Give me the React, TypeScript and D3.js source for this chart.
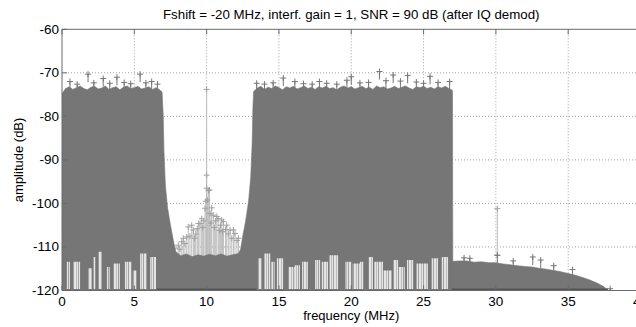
import React from "react";
import * as d3 from "d3";

// ---------- data ----------
const xTicks = [0, 5, 10, 15, 20, 25, 30, 35, 40];
const yTicks = [-120, -110, -100, -90, -80, -70, -60];

// upper envelope of the dense (dark) spectrum trace
const specFreq = [
  0, 0.25, 0.5, 0.75, 1, 1.25, 1.5, 1.75, 2, 2.25, 2.5, 2.75, 3, 3.25, 3.5, 3.75, 4, 4.25, 4.5, 4.75,
  5, 5.25, 5.5, 5.75, 6, 6.25, 6.5, 6.75,
  6.92, 7.0, 7.05, 7.15, 7.3, 7.5, 7.7, 7.85,
  8.2, 8.6, 9.0, 9.4, 9.8, 10.2, 10.6, 11.0, 11.4, 11.8, 12.2,
  12.35, 12.5, 12.7, 12.9, 13.05, 13.15, 13.2, 13.25,
  13.5, 13.75, 14, 14.25, 14.5, 14.75, 15, 15.25, 15.5, 15.75, 16, 16.25, 16.5, 16.75, 17, 17.25,
  17.5, 17.75, 18, 18.25, 18.5, 18.75, 19, 19.25, 19.5, 19.75, 20, 20.25, 20.5, 20.75, 21, 21.25,
  21.5, 21.75, 22, 22.25, 22.5, 22.75, 23, 23.25, 23.5, 23.75, 24, 24.25, 24.5, 24.75, 25, 25.25,
  25.5, 25.75, 26, 26.25, 26.5, 26.75, 26.98, 27.0,
  27.02, 27.5, 28, 28.5, 29, 29.5, 30, 30.5, 31, 31.5, 32, 32.5, 33, 33.5, 34, 34.5, 35, 35.5,
  36, 36.5, 37, 37.5, 37.65, 37.75,
];
const specAmp = [
  // band 1 (28)
  -74.8, -73.6, -73.2, -73.8, -73.4, -73.0, -73.6, -73.9, -73.3, -73.1, -73.7, -73.5, -73.0, -73.8,
  -73.4, -73.2, -73.9, -73.3, -73.0, -73.6, -73.4, -73.1, -73.7, -73.5, -73.2, -73.8, -73.4, -73.9,
  // skirt (8)
  -74.4, -80, -88, -96, -101, -105, -108.5, -111,
  // floor (11)
  -112.0, -111.6, -112.2, -111.8, -112.1, -111.7, -112.0, -111.6, -112.1, -111.8, -111.5,
  // skirt (8)
  -110.5, -107.5, -104, -99.5, -94, -86, -78, -74.3,
  // band 2 (54 + 2)
  -73.5, -73.1, -73.8, -73.3, -73.6, -73.0, -73.4, -73.9, -73.2, -73.5, -73.1, -73.7, -73.4, -73.0,
  -73.6, -73.3, -73.8, -73.2, -73.5, -73.1, -73.6, -73.4, -73.9, -73.3, -73.0, -73.5, -73.2, -73.7,
  -73.4, -73.1, -73.6, -73.3, -73.8, -73.0, -73.4, -73.2, -73.7, -73.5, -73.1, -73.6, -73.3, -73.0,
  -73.5, -73.8, -73.2, -73.4, -73.1, -73.6, -73.3, -73.7, -73.2, -73.5, -73.1, -73.6,
  -74.0, -74.2,
  // tail (24)
  -113.3, -113.2, -113.2, -113.5, -113.4, -113.6, -113.6, -113.9, -114.1, -114.3, -114.5, -114.6,
  -114.9, -115.1, -115.4, -115.7, -116.1, -116.5, -117.0, -117.6, -118.3, -119.2, -119.7, -120,
];

// isolated spikes (with + markers) on top of the dark trace
const peakFreq = [
  0.55, 1.05, 1.8, 2.2, 2.85, 3.3, 3.8, 4.3, 4.75, 5.4, 5.8, 6.2, 6.6,
  13.46, 14.0, 14.6, 15.3, 16.1, 16.7, 17.3, 17.8, 18.3, 19.0, 19.7, 20.0, 20.6, 21.2, 21.95, 22.4,
  22.9, 23.4, 23.9, 24.5, 25.0, 25.45, 26.0, 26.8,
  27.8, 28.2, 30.1, 31.2, 32.55, 33.1, 34.0, 35.3, 37.9,
];
const peakAmp = [
  -72.0, -72.6, -70.3, -72.3, -71.3, -72.4, -71.0, -72.2, -72.5, -70.3, -72.3, -72.0, -72.6,
  -72.4, -72.6, -72.3, -71.2, -72.0, -72.5, -72.6, -72.0, -72.4, -72.6, -71.7, -70.9, -72.3, -72.2,
  -69.7, -71.8, -70.5, -71.9, -70.6, -72.1, -72.4, -70.8, -72.2, -72.0,
  -112.5, -112.6, -111.9, -113.2, -112.3, -113.0, -114.3, -115.2, -119.6,
];

// light stems between the two bands (interferer) and at 30 MHz
const stemFreq = [
  7.8, 8.04, 8.15, 8.28, 8.39, 8.5, 8.62, 8.73, 8.85, 8.97, 9.08, 9.17, 9.25, 9.35, 9.43, 9.54,
  9.66, 9.73, 9.8, 9.89, 9.95, 10.0, 10.0, 10.0, 10.05, 10.12, 10.2, 10.24, 10.3, 10.35, 10.46,
  10.53, 10.6, 10.7, 10.8, 10.88, 10.95, 11.04, 11.1, 11.16, 11.3, 11.39, 11.5, 11.62, 11.74,
  11.85, 11.96, 12.1, 12.2, 30.1, 30.1,
];
const stemAmp = [
  -110.3, -109.6, -110.5, -108.8, -108.0, -109.2, -107.7, -105.4, -107.5, -105.0, -106.1, -108.0,
  -107.0, -105.8, -104.6, -104.6, -103.5, -105.5, -104.0, -101.1, -99.5, -73.8, -93.5, -96.5, -99.2,
  -97.0, -96.9, -102.3, -104.5, -101.0, -102.7, -105.5, -104.0, -103.0, -103.5, -106.2, -105.0,
  -103.8, -106.5, -104.2, -106.0, -105.0, -107.0, -106.1, -108.0, -106.1, -106.9, -108.5, -108.0,
  -101.2, -111.9,
];

// light gaps at the bottom of the two bands (start, end, top)
const gapStart = [
  0.33, 0.77, 1.8, 2.15, 2.5, 3.1, 3.55, 4.35, 4.9, 5.4, 6.1,
  13.55, 14.0, 14.45, 14.85, 15.65, 16.1, 16.6, 17.5, 17.96, 18.5, 19.6, 20.1, 20.6, 21.2, 21.6,
  22.2, 22.9, 23.25, 23.85, 24.5, 25.55, 26.25,
];
const gapEnd = [
  0.55, 1.25, 2.07, 2.3, 2.75, 3.3, 4.0, 4.8, 5.15, 5.85, 6.5,
  13.8, 14.4, 14.7, 15.3, 16.1, 16.45, 17.0, 17.85, 18.4, 19.1, 20.0, 20.6, 20.85, 21.5, 22.2,
  22.8, 23.25, 23.7, 24.3, 25.3, 26.0, 26.7,
];
const gapTop = [
  -113.4, -113.4, -114.9, -112.3, -111.1, -114.6, -113.8, -113.4, -115.4, -111.5, -112.3,
  -112.6, -111.5, -113.4, -112.6, -114.6, -114.2, -113.4, -113.0, -113.4, -111.9, -113.4, -113.8,
  -113.4, -112.3, -113.4, -115.4, -113.0, -114.6, -113.0, -113.8, -112.6, -112.3,
];

// dark floor segments drawn on the -120 line
const floorStart = [6.55, 26.95];
const floorEnd = [13.45, 37.75];

const title = "Fshift = -20 MHz, interf. gain = 1, SNR = 90 dB (after IQ demod)";
const xLabel = "frequency (MHz)";
const yLabel = "amplitude (dB)";

// ---------- layout ----------
const W = 636;
const H = 327;
const L = 62;
const R = 640.5;
const T = 29.3;
const B = 290.5;
const FONT = "'Liberation Sans', Arial, Helvetica, sans-serif";
const DARK = "#767676";

export default function App() {
  const x = d3.scaleLinear().domain([0, 40]).range([L, R]);
  const y = d3.scaleLinear().domain([-120, -60]).range([B, T]);

  const spec = specFreq.map((f, i) => ({ f, a: specAmp[i] }));
  const area = d3
    .area<{ f: number; a: number }>()
    .x((d) => x(d.f))
    .y0(y(-120))
    .y1((d) => y(d.a))
    .curve(d3.curveLinear);

  const cross = (cx: number, cy: number, s = 3) =>
    `M${cx - s},${cy}H${cx + s}M${cx},${cy - s}V${cy + s}`;

  return (
    <svg
      width={W}
      height={H}
      style={{ position: "absolute", left: 0, top: 0, background: "#fff" }}
      fontFamily={FONT}
    >
      <defs>
        <pattern id="gapPat" width="5" height="6" patternUnits="userSpaceOnUse">
          <rect width="5" height="6" fill="#e4e4e4" />
          <rect x="1" width="1" height="6" fill="#bdbdbd" />
          <rect x="3" width="1" height="6" fill="#a2a2a2" />
        </pattern>
        <clipPath id="plotClip">
          <rect x={L} y={T} width={R - L} height={B - T} />
        </clipPath>
      </defs>
      <rect width={W} height={H} fill="#fff" />

      {/* grid */}
      <g stroke="#a0a0a0" strokeWidth={1} strokeDasharray="1,2">
        {xTicks
          .filter((t) => t > 0 && t < 40)
          .map((t) => (
            <line key={"gx" + t} x1={x(t)} x2={x(t)} y1={T} y2={B} />
          ))}
        {yTicks
          .filter((t) => t > -120 && t < -60)
          .map((t) => (
            <line key={"gy" + t} x1={L} x2={R} y1={y(t)} y2={y(t)} />
          ))}
      </g>

      <g clipPath="url(#plotClip)">
        {/* light stems (interferer) */}
        <g stroke="#bcbcbc" strokeWidth={1}>
          {stemFreq.map((f, i) => (
            <line key={"s" + i} x1={x(f)} x2={x(f)} y1={y(-112)} y2={y(stemAmp[i])} />
          ))}
        </g>
        <g stroke="#a0a0a0" strokeWidth={1} fill="none">
          {stemFreq.map((f, i) => (
            <path key={"sc" + i} d={cross(x(f), y(stemAmp[i]))} />
          ))}
        </g>

        {/* dense trace */}
        <path d={area(spec) || ""} fill={DARK} stroke={DARK} strokeWidth={0.6} />

        {/* light gaps in the band bottoms */}
        {gapStart.map((s, i) => (
          <rect
            key={"g" + i}
            x={x(s)}
            width={x(gapEnd[i]) - x(s)}
            y={y(gapTop[i])}
            height={y(-120) - y(gapTop[i]) - 1.5}
            fill="url(#gapPat)"
          />
        ))}

        {/* peaks with + markers */}
        <g stroke={DARK} strokeWidth={1} fill="none">
          {peakFreq.map((f, i) => (
            <g key={"p" + i}>
              <line x1={x(f)} x2={x(f)} y1={y(peakAmp[i])} y2={y(peakAmp[i]) + 8} />
              <path d={cross(x(f), y(peakAmp[i]))} />
            </g>
          ))}
        </g>

        {/* dark floor line */}
        {floorStart.map((s, i) => (
          <line
            key={"f" + i}
            x1={x(s)}
            x2={x(floorEnd[i])}
            y1={y(-120) - 0.5}
            y2={y(-120) - 0.5}
            stroke="#555"
            strokeWidth={3}
          />
        ))}
      </g>

      {/* axes box */}
      <g stroke="#6a6a6a" strokeWidth={1} fill="none">
        <line x1={L} x2={L} y1={T} y2={B} />
        <line x1={L} x2={R} y1={T} y2={T} />
        <line x1={L} x2={R} y1={B} y2={B} />
        {xTicks.map((t) => (
          <g key={"xt" + t}>
            <line x1={x(t)} x2={x(t)} y1={B} y2={B - 5} />
            <line x1={x(t)} x2={x(t)} y1={T} y2={T + 5} />
          </g>
        ))}
        {yTicks.map((t) => (
          <line key={"yt" + t} x1={L} x2={L + 5} y1={y(t)} y2={y(t)} />
        ))}
      </g>

      {/* tick labels */}
      <g fontSize={13.5} fill="#000">
        {xTicks.map((t) => (
          <text key={"xl" + t} x={x(t)} y={306} textAnchor="middle">
            {t}
          </text>
        ))}
        {yTicks.map((t) => (
          <text key={"yl" + t} x={L - 3} y={y(t) + 4.5} textAnchor="end">
            {t}
          </text>
        ))}
      </g>

      <text x={(L + R) / 2} y={19} textAnchor="middle" fontSize={13.3}>
        {title}
      </text>
      <text x={(L + R) / 2} y={320} textAnchor="middle" fontSize={13}>
        {xLabel}
      </text>
      <text
        transform={`translate(23,${(T + B) / 2}) rotate(-90)`}
        textAnchor="middle"
        fontSize={13}
      >
        {yLabel}
      </text>
    </svg>
  );
}
